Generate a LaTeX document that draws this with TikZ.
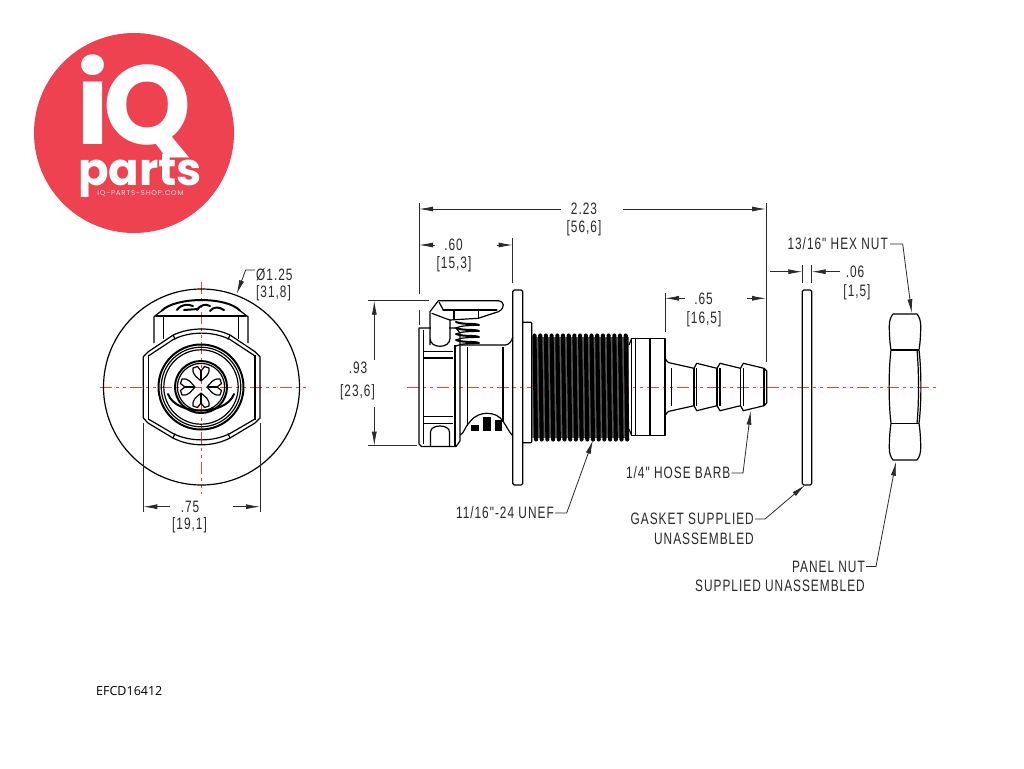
\documentclass[tikz,border=0pt]{standalone}
\usepackage{fontspec}
\usepackage{tikz}
\usetikzlibrary{arrows.meta}
\newfontfamily\cadfont[FakeStretch=0.72,LetterSpace=6]{Liberation Sans}
\newfontfamily\logofont[Ligatures=TeX]{Poppins}
\newfontfamily\codefont{Open Sans}
\definecolor{logored}{HTML}{EE4250}
\definecolor{axisred}{HTML}{E8453C}
\definecolor{cadgray}{HTML}{2A2A2A}
\tikzset{
  partline/.style={black,line width=1.2pt,line join=round},
  boldline/.style={black,line width=2pt,line join=round,line cap=round},
  extline/.style={cadgray,line width=0.8pt},
  dimline/.style={cadgray,line width=0.8pt,-{Latex[length=14pt,width=5pt]}},
  axisline/.style={axisred,line width=0.9pt,dash pattern=on 12pt off 4pt on 3pt off 4pt on 3pt off 4pt},
  cadtext/.style={text=cadgray,font=\cadfont\fontsize{16.5}{18}\selectfont},
}
\begin{document}
\begin{tikzpicture}[x=1pt,y=-1pt]
\tikzstyle{every node}+=[inner sep=0pt]
\useasboundingbox (0,0) rectangle (1024,768);
\fill [white] (0,0) rectangle (1024,768);
\fill [logored] (134,133) circle (100);
\node (logoi) [text=white,anchor=base west,font=\logofont\bfseries\fontsize{112}{112}\selectfont] at (76,144) {i};
\node (logoq) [text=white,anchor=base west,font=\logofont\bfseries\fontsize{112}{112}\selectfont] at (103,144) {Q};
\node (logoparts) [text=white,anchor=base west,font=\logofont\bfseries\fontsize{45}{45}\selectfont] at (78,185) {parts};
\node (logoshop) [text=white!85!logored,anchor=center,font=\logofont\fontsize{7}{7}\selectfont] at (140.5,193) {\addfontfeature{LetterSpace=12}IQ-PARTS-SHOP.COM};
\node (partno) [anchor=west,font=\codefont\fontsize{12.5}{14}\selectfont] at (96,691) {EFCD16412};
\draw [axisline] (100,387) -- (308,387);
\draw [axisline] (201.5,282) -- (201.5,494);
\draw [axisline] (407,387) -- (936,387);
\draw [partline] (201.5,387) circle (98);
\draw [partline] (154,343) -- (154,316.7) -- (161.7,310.7);
\draw [partline] (248,343) -- (248,316.7) -- (240,310.7);
\draw [boldline] (161.7,310.7) .. controls (176,296.5) and (227,296.5) .. (240,310.7);
\draw [boldline] (156,316) -- (246,316);
\draw [partline] (163.3,316) -- (163.3,339);
\draw [partline] (238.3,316) -- (238.3,339);
\draw [boldline] (177,310) .. controls (181,304) and (188,304) .. (193,306);
\draw [boldline] (184,310) -- (198,309);
\draw [boldline] (197,310) .. controls (201,304) and (206,304) .. (210,306);
\draw [boldline] (210,311) .. controls (214,306) and (219,307) .. (224,310);
\draw [partline] (143.3,418) -- (143.3,356.7) -- (148.3,351.7) -- (173.3,335) .. controls (190,327) and (213,327) .. (230,335) -- (255,351.7) -- (260,356.7) -- (260,418) -- (255,423) -- (230,438) .. controls (213,447) and (190,447) .. (173,438) -- (148,423) -- cycle;
\draw [partline] (148.3,355) -- (148.3,420);
\draw [partline] (255,355) -- (255,420);
\draw [partline] (148.3,356) -- (173.3,339.5) .. controls (190,331) and (213,331) .. (230,339.5) -- (255,356);
\draw [partline] (148.3,419) -- (173,433.5) .. controls (190,442) and (213,442) .. (230,433.5) -- (255,419);
\draw [partline] (173.3,335) -- (175,339.5);
\draw [partline] (230,335) -- (228,339.5);
\draw [partline] (173,438) -- (175,433.5);
\draw [partline] (230,438) -- (228,433.5);
\draw [boldline] (201,387) circle (42.5);
\draw [partline] (201,387) circle (39.8);
\draw [partline] (201,387) circle (37.2);
\draw [boldline] (201,387) circle (26);
\draw [partline] (201,387) circle (23.6);
\draw [boldline] (168,394) .. controls (176,416) and (226,416) .. (234,394);
\foreach \a in {0,90,180,270}
{
  \begin{scope}[shift={(201,387)},rotate=\a]
    \draw [partline] (-8,-19) .. controls (-9,-12) and (-4,-10) .. (0,-6) .. controls (4,-10) and (9,-12) .. (8,-19) -- (3.5,-20.5) -- (0,-16) -- (-3.5,-20.5) -- cycle;
    \draw [partline] (0,-16) -- (0,-6);
  \end{scope}
}
\coordinate (frontleft) at (143.3,423);
\coordinate (frontright) at (260,423);
\coordinate (frontdimleft) at (143.3,506.7);
\coordinate (frontdimright) at (260,506.7);
\draw [extline] (frontleft) -- (143.3,511.7);
\draw [extline] (frontright) -- (260,511.7);
\coordinate (frontstubleft) at (170,506.7);
\coordinate (frontstubright) at (233.3,506.7);
\draw [dimline] (frontstubleft) -- (frontdimleft);
\draw [dimline] (frontstubright) -- (frontdimright);
\node (frontinch) [cadtext] at (190,506.5) {.75};
\node (frontmm) [cadtext] at (189.5,525) {[19,1]};
\node (diainch) [cadtext,anchor=west] at (256,275) {Ø1.25};
\node (diamm) [cadtext,anchor=west] at (256,293.5) {[31,8]};
\coordinate (diatip) at (236.7,294);
\draw [dimline] (diainch.west) ++(-1,-5) -- (245.7,270) -- (diatip);
\draw [partline] (419,328) -- (456,328) -- (460,333) -- (460,441) -- (456,446.5) -- (421.5,446.5) -- (419,444) -- (419,330) -- cycle;
\draw [partline] (423.3,330) -- (423.3,444);
\draw [partline] (455,345) -- (455,446);
\draw [partline] (423.3,351.7) -- (453,351.7);
\draw [partline] (423.3,358) -- (453,358);
\draw [partline] (423.3,416.7) -- (453,416.7);
\draw [partline] (423.3,423.3) -- (453,423.3);
\fill [white] (430.6,312) rectangle (449.4,338);
\draw [partline] (430,345) -- (430,311.7) -- (438.3,300.7) -- (498.3,300.7) .. controls (504,300.7) and (506,308) .. (498.3,311.7) -- (478.3,318.3) -- (450,320) -- (450,338.3) .. controls (450,349) and (430,349) .. (430,338.3);
\draw [partline] (431.7,313.3) -- (445,318.3) -- (450,320);
\draw [boldline] (443.3,310) -- (496.7,310);
\draw [partline] (439,302) -- (443.3,310);
\draw [partline] (454,310) -- (454,320);
\draw [partline] (478.3,310) -- (478.3,318.3);
\foreach \y in {322,328,334,340}
{
  \draw [boldline] (456,\y) .. controls (464,\y+3) and (474,\y+1) .. (479,\y+3);
  \draw [partline] (479,\y+3) .. controls (470,\y+4) and (462,\y+3) .. (456,\y+6);
}
\draw [partline] (460,345) -- (480,345) -- (505,345) .. controls (509,345) and (512,341) .. (512.7,337);
\draw [partline] (467.7,347) -- (467.7,426);
\draw [partline] (503,347) -- (503,422);
\draw [partline] (460,435) .. controls (464,434) and (465,426) .. (470,421.7) .. controls (475,415) and (482,413.3) .. (486.7,413.3) .. controls (494,413.3) and (500,416) .. (503.3,421.7) .. controls (507,427) and (509,432) .. (512.7,435.7);
\draw [partline] (430.5,446) -- (430.5,432) .. controls (430.5,424) and (449.5,424) .. (449.5,432) -- (449.5,446);
\fill [black] (471,425) rectangle (479,430.5);
\fill [black] (483,417) rectangle (490.5,431);
\fill [black] (495,420) rectangle (501.5,431);
\draw [partline,rounded corners=1.5pt] (512.7,290) rectangle (522.7,485);
\draw [partline,rounded corners=1pt] (522.7,322.3) -- (531.7,322.3) -- (531.7,442.7) -- (522.7,442.7);
\fill [black!65] (532,337) rectangle (629,438);
\foreach \t in {0,...,16}
{
  \draw [black,line width=4.1pt,line cap=round] (534.5+\t*5.7,335.5) -- (536+\t*5.7,439.5);
}
\draw [partline] (631.7,338.3) -- (665,338.3) -- (665,435.7) -- (631.7,435.7) -- cycle;
\draw [partline] (635.5,338.3) -- (635.5,435.7);
\draw [partline] (650,338.3) -- (650,435.7);
\draw [partline] (629,345) -- (631.7,338.3);
\draw [partline] (629,429) -- (631.7,435.7);
\draw [partline] (665,358.3) .. controls (666,361) and (668,363) .. (671.7,363.3) -- (694,368.3) -- (696.7,363.3) -- (717,368.3) -- (720,363.3) -- (740.5,368.3) -- (743.3,363.3) -- (764,368.3) -- (766.7,371) -- (766.7,403) -- (764,405.7) -- (743.3,410.7) -- (740.5,405.7) -- (720,410.7) -- (717,405.7) -- (696.7,410.7) -- (694,405.7) -- (671.7,410.7) .. controls (668,411) and (666,413) .. (665,415.7);
\foreach \x in {671.7,694,696.7,717,720,740.5,743.3,764}
{
  \draw [partline] (\x,368) -- (\x,406);
}
\draw [partline,rounded corners=1.5pt] (802.3,290) rectangle (811.7,485);
\draw [partline] (893,314) -- (917,314) .. controls (919.5,317) and (920.7,321) .. (920.7,326) .. controls (920.7,336) and (920,344) .. (919,350) .. controls (921.5,370) and (921.5,404) .. (919,423.3) .. controls (920,430) and (920.7,438) .. (920.7,448) .. controls (920.7,453) and (919.5,457) .. (917,460) -- (893,460) .. controls (890.5,457) and (889.3,453) .. (889.3,448) .. controls (889.3,438) and (890,430) .. (891,423.3) .. controls (888.5,404) and (888.5,370) .. (891,350) .. controls (890,344) and (889.3,336) .. (889.3,326) .. controls (889.3,321) and (890.5,317) .. (893,314) -- cycle;
\draw [partline] (891,350) -- (919,350);
\draw [partline] (891,423.3) -- (919,423.3);
\draw [partline] (917,350) .. controls (919,370) and (919,404) .. (917,423.3);
\coordinate (bodyleft) at (419,294);
\coordinate (bodyright) at (766,361.7);
\coordinate (flangetop) at (512.7,283);
\coordinate (collartop) at (665,331.7);
\draw [extline] (bodyleft) -- (419,203);
\draw [extline] (419,310) -- (419,325);
\draw [extline] (bodyright) -- (766,203);
\draw [extline] (flangetop) -- (512.7,238);
\draw [extline] (collartop) -- (665,292.7);
\node (lengthinch) [cadtext] at (584,209) {2.23};
\node (lengthmm) [cadtext] at (584,228) {[56,6]};
\coordinate (lengthstubleft) at (561,209);
\coordinate (lengthstubright) at (623.3,209);
\draw [dimline] (lengthstubleft) -- (419,209);
\draw [dimline] (lengthstubright) -- (766,209);
\node (shoulderinch) [cadtext] at (453.5,245) {.60};
\node (shouldermm) [cadtext] at (454,264) {[15,3]};
\coordinate (shoulderstubleft) at (434.7,245);
\coordinate (shoulderstubright) at (496.7,245);
\draw [dimline] (shoulderstubleft) -- (419,245);
\draw [dimline] (shoulderstubright) -- (512.7,245);
\node (heightinch) [cadtext] at (358,367.5) {.93};
\node (heightmm) [cadtext] at (357.5,392) {[23,6]};
\coordinate (heighttop) at (429.3,300.7);
\coordinate (heightbottom) at (416.7,445.7);
\draw [extline] (heighttop) -- (368.3,300.7);
\draw [extline] (heightbottom) -- (368.3,445.7);
\coordinate (heightstubtop) at (374.3,360);
\coordinate (heightstubbottom) at (374.3,406.7);
\draw [dimline] (heightstubtop) -- (374.3,300.7);
\draw [dimline] (heightstubbottom) -- (374.3,445.7);
\node (barbinch) [cadtext] at (703.5,299) {.65};
\node (barbmm) [cadtext] at (704,319) {[16,5]};
\coordinate (barbstubleft) at (685,298.3);
\coordinate (barbstubright) at (746.7,298.3);
\draw [dimline] (barbstubleft) -- (665,298.3);
\draw [dimline] (barbstubright) -- (766,298.3);
\node (gasketinch) [cadtext] at (855,272) {.06};
\node (gasketmm) [cadtext] at (857,292) {[1,5]};
\draw [extline] (802.3,265) -- (802.3,283);
\draw [extline] (811.7,265) -- (811.7,283);
\coordinate (gasketstubleft) at (770,271.7);
\coordinate (gasketstubright) at (840,271.7);
\draw [dimline] (gasketstubleft) -- (802.3,271.7);
\draw [dimline] (gasketstubright) -- (811.7,271.7);
\node (hexnut) [cadtext,anchor=east] at (888,244) {13/16" HEX NUT};
\coordinate (hexnuttip) at (911.7,313.3);
\draw [dimline] (hexnut.east) ++(2,0) -- (902.7,244) -- (hexnuttip);
\node (threadlabel) [cadtext,anchor=east] at (554,513) {11/16"-24 UNEF};
\coordinate (threadtip) at (593,440);
\draw [dimline] (threadlabel.east) ++(1,0) -- (566.7,513) -- (threadtip);
\node (barblabel) [cadtext,anchor=east] at (730.5,473) {1/4" HOSE BARB};
\coordinate (barbtip) at (750.7,410.7);
\draw [dimline] (barblabel.east) ++(1,0) -- (743,473) -- (barbtip);
\node (gasketlabel) [cadtext,anchor=east] at (754,519) {GASKET SUPPLIED};
\node (gasketlabeltwo) [cadtext,anchor=east] at (754,538.5) {UNASSEMBLED};
\coordinate (gaskettip) at (805,485);
\draw [dimline] (gasketlabel.east) ++(1,0) -- (765,519) -- (gaskettip);
\node (panellabel) [cadtext,anchor=east] at (865,566.5) {PANEL NUT};
\node (panellabeltwo) [cadtext,anchor=east] at (865,586) {SUPPLIED UNASSEMBLED};
\coordinate (paneltip) at (896,461.7);
\draw [dimline] (panellabel.east) ++(1,0) -- (876,566.5) -- (paneltip);
\end{tikzpicture}
\end{document}
